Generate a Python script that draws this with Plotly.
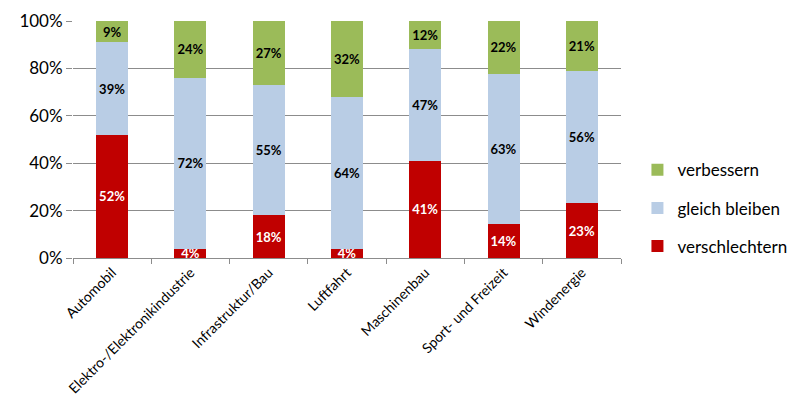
import plotly.graph_objects as go

categories = ["Automobil", "Elektro-/Elektronikindustrie", "Infrastruktur/Bau", "Luftfahrt",
              "Maschinenbau", "Sport- und Freizeit", "Windenergie"]
verschlechtern = [52, 4, 18, 4, 41, 14.4, 23]
gleich_bleiben = [39, 72, 55, 64, 47, 63.3, 56]
verbessern = [9, 24, 27, 32, 12, 22.3, 21]

font_family = "Lato, Open Sans, sans-serif"

fig = go.Figure()
series = [
    ("verschlechtern", verschlechtern, "#c00000", "white", 3),
    ("gleich bleiben", gleich_bleiben, "#b9cde5", "black", 2),
    ("verbessern", verbessern, "#9bbb59", "black", 1),
]
for name, vals, color, txtcol, rank in series:
    fig.add_trace(go.Bar(
        x=categories, y=vals, name=name, legendgroup=name, legendrank=rank,
        marker=dict(color=color, line=dict(width=0)),
        text=[f"{v:.0f}%" for v in vals], textposition="inside", textangle=0,
        insidetextanchor="middle", constraintext="none",
        textfont=dict(color=txtcol, size=13, family=font_family, weight="bold"),
        cliponaxis=False,
    ))

fig.update_layout(
    barmode="stack", bargap=0.59,
    width=800, height=414,
    margin=dict(l=65, r=187, t=13, b=164),
    plot_bgcolor="white", paper_bgcolor="white",
    font=dict(family=font_family, color="black"),
    uniformtext=dict(minsize=13, mode="show"),
    legend=dict(traceorder="grouped", tracegroupgap=13,
                x=1.03, xanchor="left", y=0.21, yanchor="middle",
                font=dict(size=17), itemwidth=30),
)
fig.update_yaxes(range=[0, 100], tickvals=[0, 20, 40, 60, 80, 100],
                 ticktext=["0%", "20%", "40%", "60%", "80%", "100%"],
                 showgrid=True, gridcolor="#8c8c8c", gridwidth=1,
                 ticks="outside", ticklen=6, tickcolor="#8c8c8c",
                 tickfont=dict(size=17), zeroline=False, showline=False,
                 automargin=False)
fig.update_xaxes(tickangle=-45, tickfont=dict(size=14),
                 showline=True, linecolor="#8c8c8c", ticks="outside",
                 tickson="boundaries", ticklen=5, tickcolor="#8c8c8c",
                 automargin=False)

fig.write_html("out.html")
